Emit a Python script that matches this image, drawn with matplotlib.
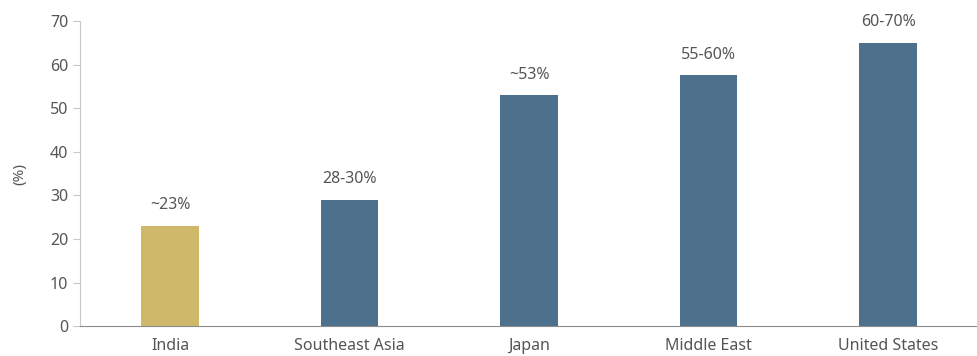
import numpy as np
import matplotlib.pyplot as plt

plt.rcParams['font.family'] = ['Noto Sans', 'DejaVu Sans']

regions = ['India', 'Southeast Asia', 'Japan', 'Middle East', 'United States']
values = [23, 29, 53, 57.5, 65]
labels = ['~23%', '28-30%', '~53%', '55-60%', '60-70%']
colours = ['#D0B86B', '#4D718C', '#4D718C', '#4D718C', '#4D718C']

fig = plt.figure(figsize=(9.78, 3.56), dpi=100)
ax = fig.add_axes([0.082, 0.084, 0.918, 0.857])

x = np.arange(len(regions))
bars = ax.bar(x, values, width=0.32, color=colours)
for b, lab in zip(bars, labels):
    ax.annotate(lab, (b.get_x() + b.get_width() / 2, b.get_height()),
                xytext=(0, 9), textcoords='offset points',
                ha='center', va='bottom', fontsize=11.5, color='#555555')

ax.set_xlim(-0.5, 4.5)
ax.set_ylim(0, 70)
ax.set_yticks(np.arange(0, 71, 10))
ax.set_xticks(x)
ax.set_xticklabels(regions)
ax.set_ylabel('(%)', fontsize=11, color='#555555', labelpad=16)

for s in ['top', 'right']:
    ax.spines[s].set_visible(False)
ax.spines['left'].set_color('#C8C8C8')
ax.spines['bottom'].set_color('#8C8C8C')
ax.tick_params(axis='y', colors='#555555', labelsize=11.5, length=5, color='#C8C8C8')
ax.tick_params(axis='x', colors='#555555', labelsize=11.5, length=0, pad=8.5)

fig.savefig('out.png', dpi=100)
